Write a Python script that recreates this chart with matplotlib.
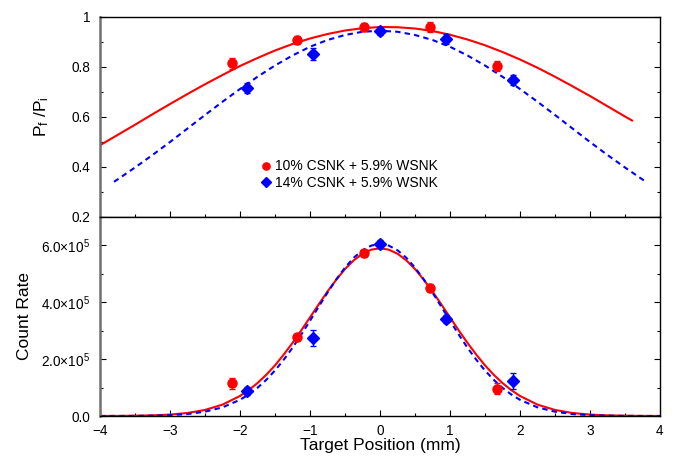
import numpy as np
import matplotlib
matplotlib.use("Agg")
import matplotlib.pyplot as plt
from matplotlib.lines import Line2D
from matplotlib.ticker import MultipleLocator, FixedLocator, FuncFormatter

plt.rcParams['font.family'] = ['Liberation Sans', 'DejaVu Sans']
plt.rcParams['mathtext.fontset'] = 'custom'
plt.rcParams['mathtext.rm'] = 'Liberation Sans'
plt.rcParams['mathtext.it'] = 'Liberation Sans'

# ---------------- data ----------------
series_labels = ["10% CSNK + 5.9% WSNK", "14% CSNK + 5.9% WSNK"]

# top panel: Pf/Pi
top_red_x = [-2.11, -1.19, -0.23, 0.71, 1.67]
top_red_y = [0.815, 0.908, 0.960, 0.960, 0.804]
top_red_err = [0.022, 0.016, 0.016, 0.020, 0.020]
top_blue_x = [-1.90, -0.96, 0.00, 0.94, 1.90]
top_blue_y = [0.716, 0.852, 0.944, 0.912, 0.748]
top_blue_err = [0.020, 0.022, 0.014, 0.020, 0.020]

top_red_fit_x = [-4.0, -3.75, -3.5, -3.25, -3.0, -2.75, -2.5, -2.25, -2.0, -1.75, -1.5, -1.25, -1.0, -0.75, -0.5, -0.25,
                 0.0, 0.25, 0.5, 0.75, 1.0, 1.25, 1.5, 1.75, 2.0, 2.25, 2.5, 2.75, 3.0, 3.25, 3.5, 3.6]
top_red_fit_y = [0.487, 0.528, 0.569, 0.611, 0.652, 0.692, 0.731, 0.768, 0.804, 0.836, 0.866, 0.892, 0.914, 0.932, 0.946, 0.955,
                 0.960, 0.959, 0.954, 0.944, 0.929, 0.910, 0.887, 0.860, 0.830, 0.797, 0.761, 0.723, 0.684, 0.643, 0.602, 0.586]
top_blue_fit_x = [-3.8, -3.75, -3.5, -3.25, -3.0, -2.75, -2.5, -2.25, -2.0, -1.75, -1.5, -1.25, -1.0, -0.75, -0.5, -0.25,
                  0.0, 0.25, 0.5, 0.75, 1.0, 1.25, 1.5, 1.75, 2.0, 2.25, 2.5, 2.75, 3.0, 3.25, 3.5, 3.75, 3.8]
top_blue_fit_y = [0.341, 0.350, 0.398, 0.448, 0.500, 0.554, 0.608, 0.661, 0.712, 0.761, 0.806, 0.846, 0.881, 0.908, 0.928, 0.941,
                  0.945, 0.941, 0.928, 0.908, 0.881, 0.846, 0.806, 0.761, 0.712, 0.661, 0.608, 0.554, 0.500, 0.448, 0.398, 0.350, 0.341]

# bottom panel: count rate (units of 1e5)
bot_red_x = [-2.11, -1.19, -0.23, 0.71, 1.67]
bot_red_y = [1.15, 2.77, 5.72, 4.50, 0.96]
bot_red_err = [0.20, 0.12, 0.12, 0.15, 0.20]
bot_blue_x = [-1.90, -0.96, 0.00, 0.94, 1.90]
bot_blue_y = [0.88, 2.74, 6.06, 3.42, 1.23]
bot_blue_err = [0.15, 0.28, 0.12, 0.15, 0.28]

bot_fit_x = [-4.0, -3.75, -3.5, -3.25, -3.0, -2.75, -2.5, -2.25,
             -2.0, -1.875, -1.75, -1.625, -1.5, -1.375, -1.25, -1.125, -1.0, -0.875, -0.75, -0.625, -0.5, -0.375, -0.25, -0.125,
             0.0, 0.125, 0.25, 0.375, 0.5, 0.625, 0.75, 0.875, 1.0, 1.125, 1.25, 1.375, 1.5, 1.625, 1.75, 1.875,
             2.0, 2.25, 2.5, 2.75, 3.0, 3.25, 3.5, 3.75, 4.0]
bot_red_fit_y = [0.001, 0.003, 0.009, 0.022, 0.049, 0.106, 0.213, 0.40,
                 0.705, 0.911, 1.16, 1.450, 1.78, 2.161, 2.57, 3.011, 3.47, 3.928, 4.38, 4.794, 5.17, 5.475, 5.71, 5.851,
                 5.90, 5.851, 5.71, 5.475, 5.17, 4.794, 4.38, 3.928, 3.47, 3.011, 2.57, 2.161, 1.78, 1.450, 1.16, 0.911,
                 0.705, 0.40, 0.213, 0.106, 0.049, 0.022, 0.009, 0.003, 0.001]
bot_blue_fit_y = [0.0005, 0.0015, 0.004, 0.012, 0.030, 0.069, 0.151, 0.304,
                  0.569, 0.758, 0.99, 1.272, 1.60, 1.981, 2.40, 2.865, 3.35, 3.849, 4.34, 4.804, 5.22, 5.568, 5.83, 5.994,
                  6.05, 5.994, 5.83, 5.568, 5.22, 4.804, 4.34, 3.849, 3.35, 2.865, 2.40, 1.981, 1.60, 1.272, 0.99, 0.758,
                  0.569, 0.304, 0.151, 0.069, 0.030, 0.012, 0.004, 0.0015, 0.0005]

top_yticks = [0.2, 0.4, 0.6, 0.8, 1.0]
top_yticklabels = ["0.2", "0.4", "0.6", "0.8", "1"]
bot_yticks = [0.0, 2.0, 4.0, 6.0]
xticks = [-4, -3, -2, -1, 0, 1, 2, 3, 4]

RED = "#ff0000"
BLUE = "#0000ff"
DASH = (0, (2.6, 2.0))

fig = plt.figure(figsize=(6.81, 4.58), dpi=100)
W, H = 681, 458
L, R = 100 / W, 660 / W
ax1 = fig.add_axes([L, 1 - 217 / H, R - L, 200 / H])
ax2 = fig.add_axes([L, 1 - 416 / H, R - L, 199 / H])

eb = dict(capsize=2.5, elinewidth=1, capthick=1, zorder=3)

# top
ax1.plot(top_red_fit_x, top_red_fit_y, color=RED, lw=1.5, zorder=2)
ax1.plot(top_blue_fit_x, top_blue_fit_y, color=BLUE, lw=1.5, ls=DASH, zorder=2)
ax1.errorbar(top_red_x, top_red_y, yerr=top_red_err, fmt='o', color=RED, ms=6.5, **eb)
ax1.errorbar(top_blue_x, top_blue_y, yerr=top_blue_err, fmt='D', color=BLUE, ms=5.8, **eb)
ax1.set_xlim(-4, 4)
ax1.set_ylim(0.2, 1.0)
ax1.yaxis.set_major_locator(FixedLocator(top_yticks))
ax1.set_yticklabels(top_yticklabels)
ax1.yaxis.set_minor_locator(MultipleLocator(0.1))
ax1.xaxis.set_major_locator(FixedLocator(xticks))
ax1.xaxis.set_minor_locator(MultipleLocator(0.5))
ax1.tick_params(axis='x', which='both', labelbottom=False, bottom=True, top=False, direction='in')
ax1.tick_params(axis='y', which='both', left=True, right=True, direction='in')
ax1.set_ylabel("P$_{\\rm f}$ /P$_{\\rm i}$", fontsize=12.5)
ax1.yaxis.set_label_coords(-0.087, 0.5)

handles = [Line2D([], [], ls='none', marker='o', color=RED, ms=5.2),
           Line2D([], [], ls='none', marker='D', color=BLUE, ms=4.8)]
ax1.legend(handles, series_labels, loc='center', bbox_to_anchor=(0.445, 0.2125), frameon=False, fontsize=10,
           handletextpad=0.2, handlelength=0.8, labelspacing=0.15, borderaxespad=0, borderpad=0)

# bottom
ax2.plot(bot_fit_x, bot_red_fit_y, color=RED, lw=1.5, zorder=2)
ax2.plot(bot_fit_x, bot_blue_fit_y, color=BLUE, lw=1.5, ls=DASH, zorder=2)
ax2.errorbar(bot_red_x, bot_red_y, yerr=bot_red_err, fmt='o', color=RED, ms=6.5, **eb)
ax2.errorbar(bot_blue_x, bot_blue_y, yerr=bot_blue_err, fmt='D', color=BLUE, ms=5.8, **eb)
ax2.set_xlim(-4, 4)
ax2.set_ylim(0, 7.0)
ax2.yaxis.set_major_locator(FixedLocator(bot_yticks))
ax2.yaxis.set_minor_locator(MultipleLocator(1.0))
ax2.yaxis.set_major_formatter(FuncFormatter(
    lambda v, p: "0.0" if v == 0 else "%.1f\u00d710$^{5}$" % v))
ax2.xaxis.set_major_locator(FixedLocator(xticks))
ax2.xaxis.set_minor_locator(MultipleLocator(0.5))
ax2.xaxis.set_major_formatter(FuncFormatter(lambda v, p: ("\u2212%d" % abs(v)) if v < 0 else "%d" % v))
ax2.tick_params(axis='x', which='both', bottom=True, top=False, direction='in')
ax2.tick_params(axis='y', which='both', left=True, right=True, direction='in')
ax2.set_ylabel("Count Rate", fontsize=12.5)
ax2.yaxis.set_label_coords(-0.121, 0.5)
ax2.set_xlabel("Target Position (mm)", fontsize=12.5, labelpad=0)

for ax in (ax1, ax2):
    ax.tick_params(which='major', length=4, width=0.8, labelsize=9.8, pad=7)
    ax.tick_params(which='minor', length=2.5, width=0.8)
    for s in ax.spines.values():
        s.set_linewidth(1.0)
    ax.spines['left'].set_color('#707070')
    ax.spines['left'].set_linewidth(1.8)
ax2.tick_params(axis='x', which='major', pad=6)

fig.savefig("out.png", dpi=100)
